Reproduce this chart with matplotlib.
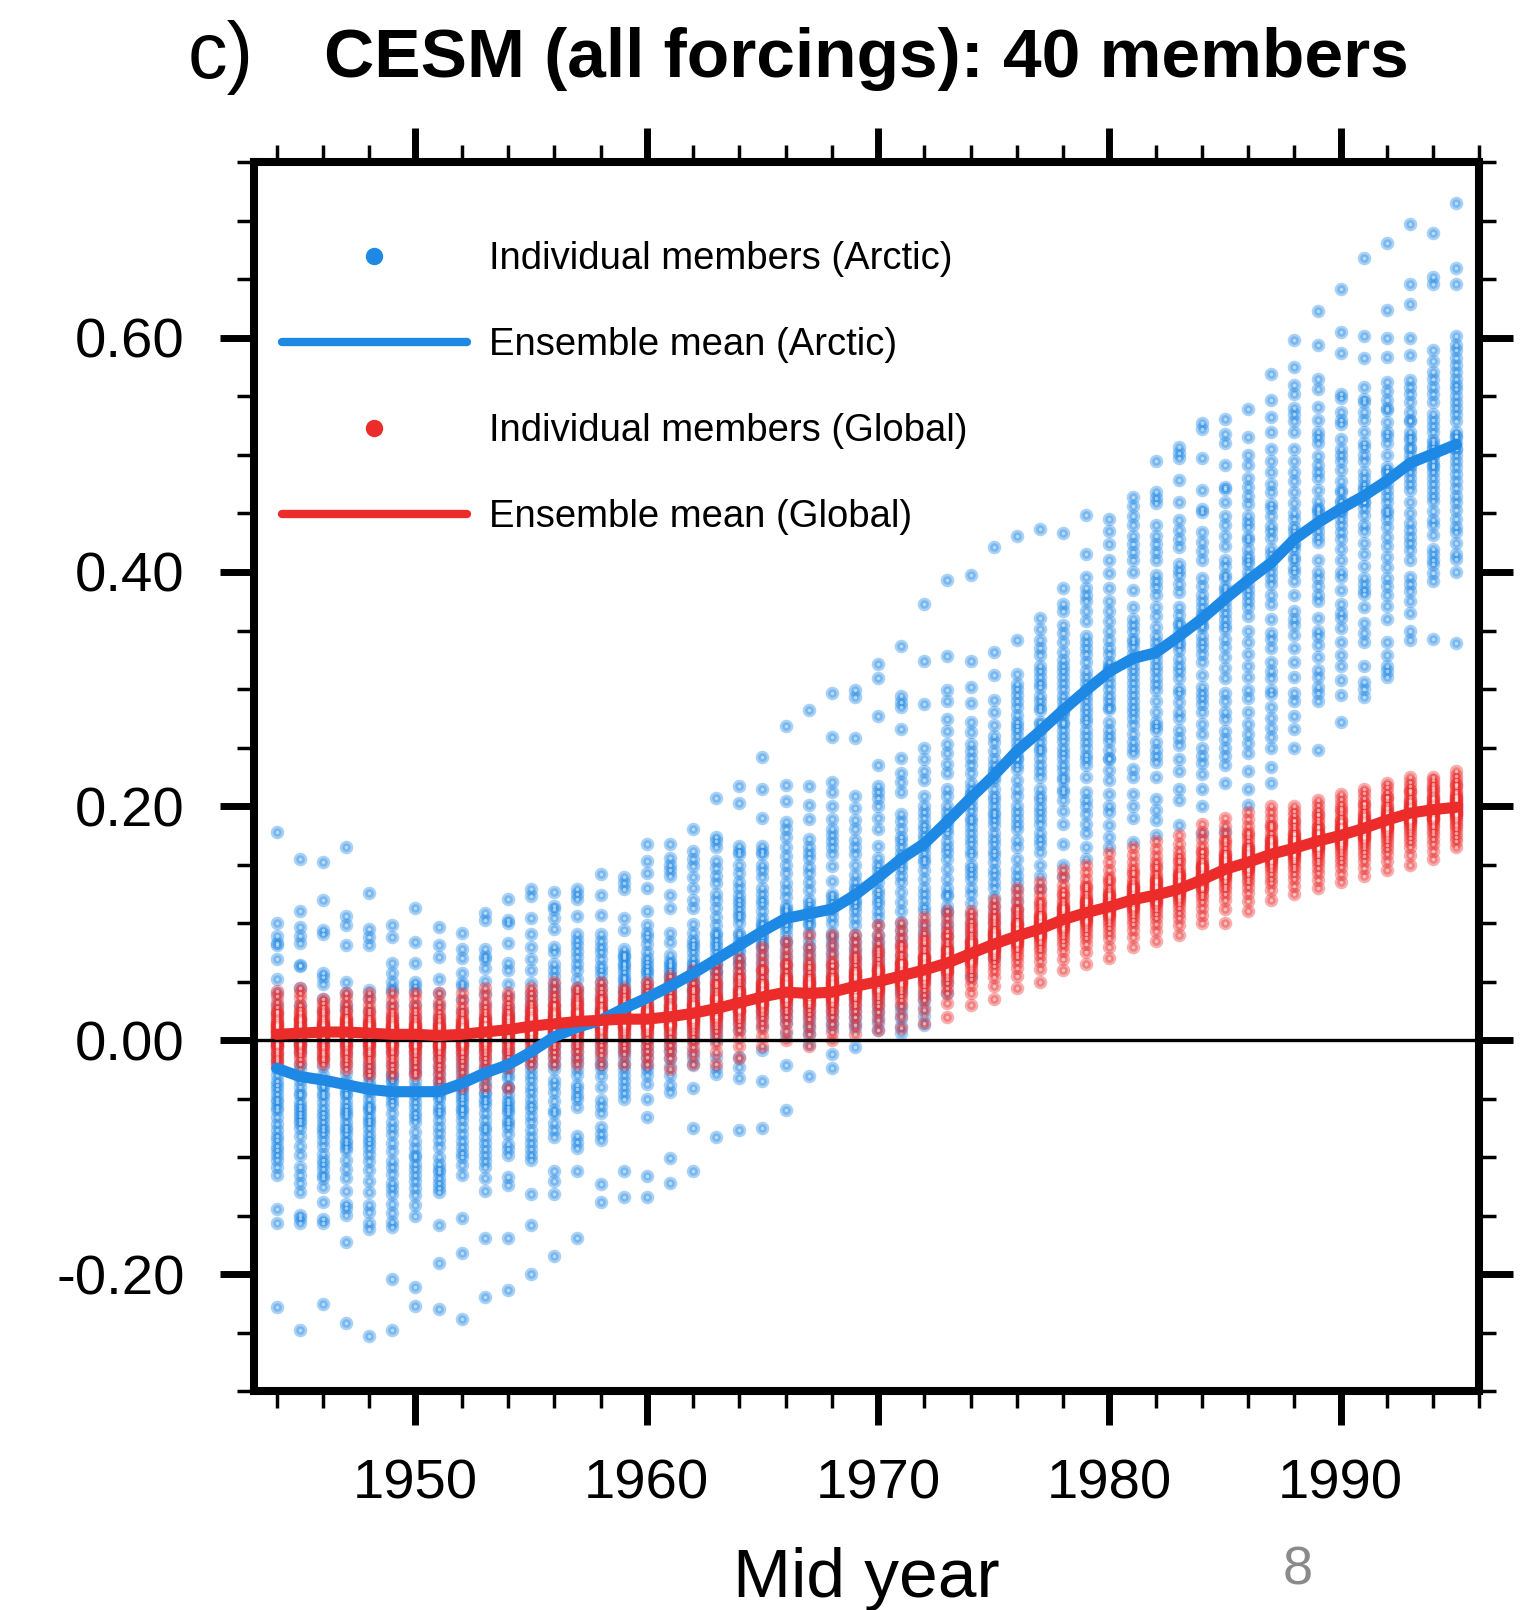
import numpy as np
import matplotlib
matplotlib.use('Agg')
import matplotlib.pyplot as plt
from matplotlib.lines import Line2D
from matplotlib.colors import to_rgba
from matplotlib.ticker import MultipleLocator, FormatStrFormatter

plt.rcParams['font.family'] = ['Liberation Sans', 'DejaVu Sans']
plt.rcParams['axes.unicode_minus'] = False

# mid years of the trend windows
years = list(range(1944, 1996))

# ensemble means, in thousandths of a degree
arctic_mean = [-24, -31, -34, -38, -42, -44, -44, -44, -37, -28,
               -21, -10, 3, 11, 17, 27, 36, 46, 57, 69,
               81, 93, 104, 108, 112, 124, 139, 155, 168, 187,
               207, 226, 247, 264, 282, 299, 315, 326, 331, 345,
               360, 377, 393, 408, 428, 442, 454, 465, 478, 493,
               501, 509]
global_mean = [5, 6, 7, 7, 6, 5, 5, 4, 5, 7,
               9, 12, 14, 16, 17, 18, 18, 20, 23, 27,
               32, 37, 41, 40, 41, 46, 50, 55, 60, 66,
               74, 82, 89, 95, 103, 109, 114, 120, 124, 129,
               137, 146, 152, 159, 164, 170, 175, 181, 188, 194,
               197, 199]

# individual members (Arctic), one list per mid year
arctic_members = [
    [178, 100, 89, 83, 81, 69, 52, 40, 30, 22, 15, 8, 2, -5, -12, -18, -25, -30, -38, -42,
     -46, -50, -53, -57, -60, -66, -72, -77, -82, -85, -90, -94, -98, -102, -108, -115, -144, -156, -35, -228],
    [155, 110, 97, 89, 83, 64, 63, 45, 30, 18, 8, -2, -10, -20, -25, -31, -40, -47, -53, -56,
     -59, -62, -65, -68, -71, -75, -82, -90, -98, -108, -115, -122, -130, -149, -152, -156, -5, -35, -45, -248],
    [152, 120, 94, 91, 57, 54, 48, 35, 25, 15, 5, -5, -15, -22, -30, -38, -45, -53, -58, -62,
     -66, -70, -74, -77, -80, -85, -90, -97, -102, -106, -110, -115, -118, -125, -138, -153, -156, -225, -40, -48],
    [165, 106, 98, 81, 50, 40, 30, 26, 15, 5, -5, -12, -20, -28, -35, -42, -47, -52, -56, -60,
     -65, -70, -74, -77, -80, -85, -91, -94, -102, -110, -118, -129, -140, -143, -149, -172, -242, -45, -62, -88],
    [126, 95, 88, 81, 43, 36, 25, 15, 5, -5, -12, -20, -25, -30, -38, -45, -50, -55, -60, -65,
     -68, -71, -75, -80, -84, -88, -92, -97, -103, -111, -120, -130, -141, -147, -156, -161, -253, -42, -35, -58],
    [98, 88, 66, 57, 50, 45, 42, 30, 20, 10, 0, -10, -20, -31, -34, -40, -48, -55, -62, -70,
     -75, -80, -88, -95, -103, -108, -114, -122, -126, -131, -140, -148, -155, -160, -204, -248, -35, -45, -52, -28],
    [113, 84, 66, 50, 46, 42, 30, 20, 10, 0, -10, -20, -28, -35, -40, -45, -53, -57, -62, -70,
     -78, -86, -92, -98, -100, -106, -110, -115, -120, -126, -132, -141, -150, -211, -227, -25, -48, -66, -5, -15],
    [97, 81, 71, 52, 40, 30, 20, 10, 0, -10, -15, -22, -28, -34, -40, -45, -50, -56, -62, -68,
     -74, -79, -85, -91, -100, -106, -110, -113, -118, -122, -126, -130, -158, -190, -230, -38, -48, -5, 15, -60],
    [92, 78, 70, 57, 49, 46, 35, 25, 15, 5, -5, -15, -25, -30, -38, -44, -50, -54, -58, -63,
     -68, -74, -80, -86, -91, -96, -100, -107, -115, -152, -182, -238, -20, -10, 0, -42, -60, -35, 12, -48],
    [109, 103, 78, 72, 69, 62, 51, 40, 30, 20, 10, 0, -8, -15, -22, -30, -38, -45, -50, -53,
     -56, -62, -68, -74, -77, -83, -88, -93, -98, -103, -108, -118, -129, -169, -219, -25, -35, 5, -45, 15],
    [121, 103, 100, 83, 66, 60, 48, 38, 28, 18, 10, 0, -8, -15, -19, -25, -32, -40, -46, -51,
     -54, -57, -62, -68, -71, -74, -80, -89, -93, -98, -117, -124, -169, -213, -30, -10, 5, 22, -40, -60],
    [129, 123, 104, 91, 80, 69, 60, 49, 40, 30, 20, 10, 0, -8, -16, -25, -34, -44, -50, -59,
     -65, -70, -77, -83, -88, -93, -98, -102, -131, -158, -200, -20, 5, 15, -30, -40, -12, 25, -55, 35],
    [127, 115, 112, 104, 95, 80, 75, 60, 48, 40, 30, 20, 12, 5, -5, -15, -25, -34, -44, -52,
     -62, -71, -77, -83, -112, -120, -131, -184, 0, 18, 25, -10, -20, 35, 8, -38, -60, 45, 55, 65],
    [129, 125, 121, 106, 91, 86, 81, 76, 71, 52, 40, 30, 20, 10, 0, -10, -19, -38, -42, -47,
     -57, -82, -87, -92, -112, -169, 5, 15, 25, -25, -30, 35, 45, 60, 65, -5, 8, 12, -15, -50],
    [142, 124, 107, 91, 80, 75, 69, 63, 56, 39, 33, 25, 15, 5, -5, -16, -24, -31, -51, -56,
     -74, -80, -85, -123, -138, 0, 10, 20, 28, 45, 50, -10, -20, -40, -62, 60, 85, 12, 18, 2],
    [139, 134, 129, 104, 94, 78, 74, 70, 66, 62, 58, 54, 50, 46, 42, 35, 25, 15, 5, -4,
     -10, -15, -20, -25, -30, -35, -40, -45, -50, -112, -134, 30, 20, 10, 0, 52, 64, 72, -8, 40],
    [168, 153, 143, 130, 110, 98, 92, 88, 82, 67, 63, 60, 55, 50, 45, 39, 30, 22, 12, 5,
     -5, -15, -21, -25, -30, -37, -50, -66, -116, -134, 35, 40, 25, 15, 0, 70, 75, 58, 20, -10],
    [168, 156, 150, 145, 140, 124, 113, 92, 84, 73, 68, 63, 58, 53, 48, 43, 37, 30, 20, 10,
     0, -9, -15, -22, -30, -38, -44, -101, -122, 45, 50, 55, 60, 65, 25, 35, 40, 15, 5, -5],
    [180, 162, 155, 149, 139, 130, 120, 113, 99, 92, 86, 82, 66, 60, 55, 49, 43, 37, 30, 20,
     10, 0, -9, -15, -21, -41, -75, -112, 62, 70, 75, 45, 50, 25, 35, 15, 5, 80, 65, 40],
    [207, 174, 170, 165, 153, 147, 140, 134, 113, 98, 92, 86, 82, 70, 64, 58, 50, 40, 30, 20,
     10, 0, -14, -24, -29, -83, 60, 65, 75, 80, 55, 45, 35, 25, 15, 105, 120, 125, 5, 90],
    [217, 203, 166, 162, 159, 143, 124, 120, 116, 108, 100, 92, 82, 75, 67, 60, 50, 40, 30, 20,
     9, -14, -23, -32, -77, 85, 90, 70, 55, 45, 35, 25, 15, 105, 112, 130, 135, 150, 65, 78],
    [242, 215, 190, 166, 162, 159, 139, 120, 116, 104, 98, 85, 75, 65, 55, 45, 35, 25, 12, -8,
     -35, -75, 90, 93, 96, 100, 80, 70, 60, 50, 40, 30, 20, 110, 125, 130, 145, 150, 88, 82],
    [268, 218, 204, 186, 180, 174, 157, 143, 134, 128, 122, 110, 98, 90, 82, 75, 65, 55, 45, 35,
     25, 15, 5, -21, -60, 100, 104, 108, 112, 115, 95, 85, 70, 60, 50, 40, 30, 20, 150, 165],
    [282, 217, 201, 189, 172, 156, 143, 135, 128, 116, 107, 98, 92, 85, 75, 65, 55, 45, 35, 25,
     15, 5, -3, -31, 100, 104, 110, 112, 120, 80, 70, 60, 50, 40, 30, 20, 10, 148, 160, 165],
    [297, 259, 221, 212, 189, 180, 170, 159, 149, 136, 122, 100, 92, 88, 80, 70, 60, 50, 40, 30,
     20, 10, -12, -24, 105, 110, 115, 118, 125, 85, 75, 65, 55, 45, 35, 25, 15, 200, 165, 175],
    [299, 293, 258, 209, 198, 188, 180, 171, 159, 141, 128, 110, 104, 98, 85, 75, 65, 55, 45, 35,
     25, 15, -6, 120, 125, 130, 118, 135, 90, 80, 70, 60, 50, 40, 30, 20, 10, 150, 165, 115],
    [321, 309, 277, 235, 217, 212, 207, 180, 166, 156, 128, 120, 116, 110, 98, 90, 80, 70, 60, 50,
     40, 30, 20, 9, 135, 140, 145, 150, 125, 85, 75, 65, 55, 45, 35, 25, 15, 190, 200, 105],
    [337, 294, 289, 285, 266, 241, 228, 221, 212, 193, 187, 174, 165, 156, 146, 127, 118, 110, 101, 95,
     82, 73, 60, 50, 40, 30, 19, 6, 155, 160, 150, 140, 135, 170, 180, 88, 66, 45, 25, 12],
    [373, 324, 287, 250, 240, 230, 222, 209, 200, 190, 184, 165, 152, 145, 138, 130, 120, 114, 101, 95,
     80, 65, 50, 35, 21, 13, 168, 172, 160, 175, 155, 180, 125, 110, 90, 70, 55, 40, 28, 195],
    [393, 328, 299, 290, 274, 264, 253, 236, 228, 215, 209, 187, 177, 170, 161, 146, 138, 130, 123, 115,
     108, 95, 80, 65, 50, 40, 185, 190, 195, 180, 200, 165, 155, 125, 110, 100, 88, 72, 58, 245],
    [397, 324, 302, 288, 272, 263, 253, 247, 241, 228, 210, 205, 196, 187, 177, 168, 158, 146, 138, 130,
     117, 100, 85, 70, 55, 200, 210, 215, 220, 190, 182, 172, 162, 150, 142, 125, 108, 92, 78, 235],
    [421, 332, 312, 291, 280, 269, 247, 230, 222, 209, 200, 192, 184, 177, 168, 158, 152, 141, 130, 115,
     100, 85, 70, 225, 230, 235, 240, 215, 205, 195, 188, 172, 162, 145, 135, 122, 108, 92, 260, 255],
    [431, 342, 313, 304, 295, 285, 272, 260, 241, 232, 222, 209, 190, 171, 165, 146, 135, 120, 105, 90,
     250, 255, 245, 265, 240, 215, 200, 180, 155, 140, 128, 112, 98, 268, 278, 290, 300, 235, 195, 185],
    [437, 361, 351, 342, 335, 329, 310, 302, 294, 282, 272, 247, 241, 225, 209, 199, 190, 177, 168, 161,
     265, 270, 260, 255, 285, 290, 250, 235, 215, 205, 185, 172, 150, 140, 130, 320, 315, 305, 230, 195],
    [433, 386, 373, 367, 348, 340, 332, 320, 310, 300, 294, 285, 272, 256, 241, 231, 222, 212, 196, 168,
     280, 282, 278, 290, 265, 260, 250, 245, 235, 205, 185, 150, 140, 355, 325, 315, 305, 270, 225, 215],
    [449, 415, 396, 386, 367, 358, 345, 335, 323, 294, 272, 265, 260, 244, 212, 193, 177, 300, 305, 298,
     310, 315, 290, 285, 280, 255, 250, 235, 225, 200, 185, 165, 155, 375, 380, 340, 330, 275, 240, 205],
    [445, 435, 424, 399, 386, 367, 358, 350, 342, 323, 316, 294, 283, 272, 256, 248, 241, 231, 222, 184,
     174, 315, 318, 320, 310, 305, 300, 330, 335, 290, 265, 260, 210, 200, 195, 165, 410, 375, 285, 240],
    [464, 456, 448, 431, 424, 417, 400, 370, 360, 350, 343, 336, 325, 315, 305, 295, 285, 275, 269, 255,
     245, 232, 225, 190, 169, 330, 320, 310, 300, 290, 280, 340, 355, 385, 410, 440, 250, 262, 210, 200],
    [495, 468, 463, 459, 431, 424, 417, 397, 392, 387, 370, 362, 353, 340, 309, 304, 299, 272, 268, 265,
     248, 243, 238, 206, 197, 188, 330, 335, 325, 320, 315, 345, 380, 410, 440, 290, 280, 255, 225, 175],
    [507, 502, 497, 479, 444, 436, 428, 421, 407, 402, 397, 383, 370, 363, 356, 340, 333, 326, 309, 297,
     289, 280, 265, 258, 252, 240, 205, 184, 345, 350, 355, 338, 320, 315, 300, 275, 230, 215, 460, 390],
    [527, 522, 497, 454, 451, 434, 426, 418, 410, 388, 370, 362, 353, 345, 336, 323, 312, 302, 297, 292,
     287, 262, 243, 237, 227, 176, 360, 365, 375, 380, 355, 340, 330, 395, 470, 280, 270, 250, 215, 200],
    [531, 518, 491, 473, 471, 448, 440, 431, 422, 410, 397, 387, 351, 343, 336, 327, 318, 309, 297, 274,
     264, 257, 250, 243, 179, 375, 380, 385, 370, 365, 360, 395, 405, 460, 290, 280, 235, 220, 510, 355],
    [539, 515, 491, 473, 465, 458, 448, 443, 438, 427, 420, 414, 407, 375, 362, 330, 320, 299, 292, 262,
     254, 245, 201, 395, 390, 400, 385, 380, 370, 350, 340, 310, 280, 270, 230, 215, 480, 500, 430, 410],
    [569, 547, 532, 505, 495, 485, 468, 458, 448, 439, 429, 395, 373, 348, 343, 323, 309, 299, 296, 275,
     267, 259, 233, 410, 405, 400, 415, 420, 390, 380, 360, 335, 315, 285, 250, 220, 475, 455, 435, 520],
    [598, 575, 552, 540, 529, 520, 505, 495, 478, 468, 459, 438, 423, 413, 403, 392, 367, 346, 335, 323,
     297, 277, 266, 430, 425, 435, 420, 445, 410, 400, 380, 360, 310, 290, 250, 560, 535, 485, 450, 355],
    [623, 594, 556, 541, 530, 520, 510, 499, 491, 480, 470, 461, 453, 440, 426, 400, 388, 375, 361, 350,
     338, 327, 316, 302, 297, 248, 445, 435, 450, 430, 455, 410, 395, 380, 345, 310, 290, 515, 485, 565],
    [642, 605, 587, 552, 549, 537, 526, 514, 505, 495, 487, 478, 468, 461, 453, 434, 428, 396, 385, 373,
     361, 352, 329, 308, 295, 272, 455, 450, 460, 445, 440, 420, 410, 400, 365, 340, 320, 530, 500, 470],
    [668, 602, 583, 558, 548, 537, 520, 507, 495, 480, 472, 465, 449, 425, 405, 395, 381, 356, 348, 306,
     293, 470, 460, 455, 475, 485, 440, 435, 415, 390, 370, 340, 320, 545, 530, 510, 500, 385, 300, 460],
    [681, 624, 600, 584, 562, 547, 538, 528, 516, 486, 453, 445, 438, 430, 422, 413, 404, 388, 371, 329,
     320, 310, 480, 475, 485, 490, 470, 465, 460, 500, 510, 395, 380, 360, 340, 555, 540, 520, 450, 315],
    [697, 646, 629, 585, 564, 558, 552, 537, 529, 520, 513, 507, 491, 480, 442, 436, 430, 419, 396, 384,
     375, 350, 342, 495, 490, 500, 485, 475, 470, 460, 450, 410, 365, 545, 530, 515, 505, 600, 425, 390],
    [690, 652, 646, 590, 571, 565, 558, 552, 535, 520, 513, 507, 491, 461, 452, 444, 432, 407, 399, 392,
     343, 500, 505, 495, 510, 485, 480, 470, 475, 440, 420, 410, 580, 545, 530, 525, 490, 415, 500, 465],
    [715, 660, 646, 602, 594, 583, 577, 571, 560, 556, 545, 529, 516, 495, 484, 478, 472, 465, 453, 438,
     434, 411, 400, 339, 510, 505, 515, 500, 520, 490, 460, 445, 425, 415, 540, 550, 565, 590, 505, 535],
]

# individual members (Global), one list per mid year
global_members = [
    [42, 38, 33, 28, 25, 22, 20, 18, 16, 14, 12, 10, 9, 8, 7, 6, 5, 4, 3, 2, 1, 0, -1, -2, -3, -4, -5, -6, -8, -10, -12, -14, -16, -18, -20, -22, 11, 13, 15, 24],
    [45, 40, 36, 30, 27, 24, 21, 19, 17, 15, 13, 12, 11, 10, 9, 8, 7, 6, 5, 4, 3, 2, 1, 0, -2, -4, -6, -8, -10, -13, -16, -20, 14, 16, 18, 23, 9, 5, 1, -3],
    [35, 32, 28, 26, 24, 22, 20, 18, 16, 15, 14, 13, 12, 11, 10, 9, 8, 7, 6, 5, 4, 3, 2, 1, 0, -1, -3, -5, -7, -9, -11, -13, -15, -17, -20, 8, 6, 4, 10, 12],
    [40, 36, 31, 27, 24, 21, 19, 17, 15, 14, 13, 12, 11, 10, 9, 8, 7, 6, 5, 4, 3, 2, 1, 0, -1, -3, -5, -7, -9, -11, -14, -17, -20, -25, 16, 18, 9, 5, 2, -2],
    [40, 35, 30, 26, 23, 20, 18, 16, 14, 12, 11, 10, 9, 8, 7, 6, 5, 4, 3, 2, 1, 0, -1, -2, -4, -6, -8, -10, -12, -15, -18, -22, -26, -30, 13, 15, 7, 3, 0, -3],
    [40, 34, 29, 25, 22, 20, 18, 16, 14, 13, 12, 11, 10, 9, 8, 7, 6, 5, 4, 3, 2, 1, 0, -1, -2, -3, -5, -7, -9, -11, -14, -17, -21, -25, -30, 10, 6, 2, -4, 15],
    [40, 36, 30, 26, 23, 20, 17, 15, 13, 12, 11, 10, 9, 8, 7, 6, 5, 4, 3, 2, 1, 0, -1, -2, -3, -4, -6, -8, -10, -13, -16, -19, -23, -27, -30, 9, 5, 1, -5, 14],
    [40, 33, 28, 24, 21, 18, 16, 14, 12, 11, 10, 9, 8, 7, 6, 5, 4, 3, 2, 1, 0, -1, -2, -3, -4, -5, -7, -9, -11, -14, -17, -21, -25, -30, -35, 8, 4, 0, -6, 13],
    [40, 34, 29, 25, 22, 19, 17, 15, 13, 12, 11, 10, 9, 8, 7, 6, 5, 4, 3, 2, 1, 0, -1, -2, -3, -5, -7, -9, -11, -14, -18, -22, -27, -33, -40, 10, 6, 2, -4, 16],
    [45, 39, 33, 28, 25, 22, 19, 17, 15, 14, 13, 12, 11, 10, 9, 8, 7, 6, 5, 4, 3, 2, 1, 0, -1, -3, -5, -7, -9, -12, -15, -19, -24, -31, -40, 12, 8, 4, -2, 18],
    [40, 36, 32, 28, 25, 23, 21, 19, 17, 16, 15, 14, 13, 12, 11, 10, 9, 8, 7, 6, 5, 4, 3, 2, 1, 0, -2, -4, -6, -8, -11, -14, -18, -24, -41, 13, 9, 5, 1, 20],
    [45, 40, 36, 32, 29, 26, 24, 22, 20, 19, 18, 17, 16, 15, 14, 13, 12, 11, 10, 9, 8, 7, 6, 5, 4, 3, 2, 0, -2, -5, -8, -11, -15, -20, 15, 12, 9, 6, 21, 27],
    [50, 44, 39, 35, 31, 28, 26, 24, 22, 21, 20, 19, 18, 17, 16, 15, 14, 13, 12, 11, 10, 9, 8, 7, 6, 5, 4, 2, 0, -3, -6, -10, -14, -20, 17, 14, 11, 8, 23, 30],
    [45, 42, 38, 35, 32, 30, 28, 26, 24, 23, 22, 21, 20, 19, 18, 17, 16, 15, 14, 13, 12, 11, 10, 9, 8, 7, 5, 3, 1, -2, -5, -9, -14, -20, 20, 17, 14, 11, 25, 33],
    [50, 45, 41, 37, 34, 31, 29, 27, 25, 24, 23, 22, 21, 20, 19, 18, 17, 16, 15, 14, 13, 12, 11, 10, 9, 8, 6, 4, 2, -1, -4, -8, -13, -20, 21, 18, 15, 12, 26, 35],
    [45, 42, 39, 36, 33, 31, 29, 27, 26, 25, 24, 23, 22, 21, 20, 19, 18, 17, 16, 15, 14, 13, 12, 11, 10, 9, 7, 5, 3, 0, -3, -7, -12, -20, 22, 19, 16, 13, 28, 34],
    [50, 46, 42, 38, 35, 32, 30, 28, 26, 25, 24, 23, 22, 21, 20, 19, 18, 17, 16, 15, 14, 13, 12, 11, 10, 9, 7, 5, 2, -1, -5, -9, -14, -20, 21, 18, 15, 12, 27, 36],
    [55, 50, 45, 41, 37, 34, 32, 30, 28, 27, 26, 25, 24, 23, 22, 21, 20, 19, 18, 17, 16, 15, 14, 13, 12, 10, 8, 6, 3, 0, -4, -9, -15, -25, 23, 20, 17, 13, 29, 38],
    [60, 54, 49, 45, 41, 38, 35, 33, 31, 30, 29, 28, 27, 26, 25, 24, 23, 22, 21, 20, 19, 18, 17, 16, 15, 13, 11, 9, 6, 3, -1, -6, -12, -20, 26, 23, 20, 16, 32, 43],
    [65, 59, 54, 50, 46, 43, 40, 38, 36, 35, 34, 33, 32, 31, 30, 29, 28, 27, 26, 25, 24, 23, 22, 21, 20, 18, 16, 14, 11, 8, 4, -2, -10, -20, 30, 27, 24, 20, 37, 48],
    [70, 64, 59, 55, 51, 48, 45, 43, 41, 40, 39, 38, 37, 36, 35, 34, 33, 32, 31, 30, 29, 28, 27, 26, 25, 23, 21, 19, 16, 13, 9, 3, -5, -15, 35, 32, 29, 25, 42, 53],
    [80, 73, 67, 62, 58, 54, 51, 49, 47, 46, 45, 44, 43, 42, 41, 40, 39, 38, 37, 36, 35, 34, 33, 32, 31, 29, 27, 25, 22, 19, 15, 10, 4, -5, 40, 37, 34, 30, 48, 60],
    [85, 78, 72, 67, 63, 59, 56, 54, 52, 51, 50, 49, 48, 47, 46, 45, 44, 43, 42, 41, 40, 39, 38, 37, 36, 34, 32, 30, 27, 24, 20, 15, 8, 0, 44, 41, 38, 34, 53, 64],
    [90, 80, 73, 67, 62, 58, 55, 53, 51, 50, 49, 48, 47, 46, 45, 44, 43, 42, 41, 40, 39, 38, 37, 36, 35, 33, 31, 29, 26, 22, 18, 12, 5, -5, 43, 40, 37, 33, 52, 63],
    [90, 81, 74, 68, 63, 59, 56, 54, 52, 51, 50, 49, 48, 47, 46, 45, 44, 43, 42, 41, 40, 39, 38, 37, 36, 34, 32, 30, 27, 24, 20, 14, 7, 0, 44, 41, 38, 34, 53, 64],
    [90, 84, 78, 73, 68, 64, 61, 59, 57, 56, 55, 54, 53, 52, 51, 50, 49, 48, 47, 46, 45, 44, 43, 42, 41, 39, 37, 35, 32, 29, 25, 20, 13, 5, 49, 46, 43, 39, 58, 70],
    [98, 90, 83, 78, 73, 69, 66, 63, 61, 60, 59, 58, 57, 56, 55, 54, 53, 52, 51, 50, 49, 48, 47, 46, 45, 43, 41, 39, 36, 33, 29, 24, 17, 9, 53, 50, 47, 43, 62, 75],
    [100, 93, 87, 82, 78, 74, 71, 68, 66, 65, 64, 63, 62, 61, 60, 59, 58, 57, 56, 55, 54, 53, 52, 51, 50, 48, 46, 44, 41, 38, 34, 29, 21, 10, 58, 55, 52, 48, 67, 80],
    [105, 98, 92, 87, 83, 79, 76, 73, 71, 70, 69, 68, 67, 66, 65, 64, 63, 62, 61, 60, 59, 58, 57, 56, 55, 53, 51, 49, 46, 43, 39, 34, 26, 15, 63, 60, 57, 53, 72, 85],
    [110, 104, 98, 93, 89, 85, 82, 79, 77, 76, 75, 74, 73, 72, 71, 70, 69, 68, 67, 66, 65, 64, 63, 62, 61, 59, 57, 55, 52, 49, 45, 40, 32, 20, 69, 66, 63, 59, 78, 90],
    [110, 106, 102, 98, 94, 91, 88, 86, 84, 83, 82, 81, 80, 79, 78, 77, 76, 75, 74, 73, 72, 71, 70, 69, 68, 66, 64, 62, 59, 56, 52, 47, 40, 30, 77, 74, 71, 67, 85, 96],
    [120, 115, 110, 106, 102, 99, 96, 94, 92, 91, 90, 89, 88, 87, 86, 85, 84, 83, 82, 81, 80, 79, 78, 77, 76, 74, 72, 70, 67, 63, 59, 54, 46, 35, 85, 82, 79, 75, 93, 104],
    [130, 124, 118, 113, 109, 106, 103, 101, 99, 98, 97, 96, 95, 94, 93, 92, 91, 90, 89, 88, 87, 86, 85, 84, 83, 81, 79, 77, 74, 71, 67, 62, 55, 45, 92, 89, 86, 82, 100, 111],
    [135, 129, 124, 119, 115, 112, 109, 107, 105, 104, 103, 102, 101, 100, 99, 98, 97, 96, 95, 94, 93, 92, 91, 90, 89, 87, 85, 83, 80, 77, 73, 68, 61, 50, 98, 95, 92, 88, 106, 117],
    [145, 139, 133, 128, 124, 120, 117, 115, 113, 112, 111, 110, 109, 108, 107, 106, 105, 104, 103, 102, 101, 100, 99, 98, 97, 95, 93, 91, 88, 85, 81, 76, 69, 60, 106, 103, 100, 96, 114, 125],
    [150, 144, 138, 133, 129, 126, 123, 121, 119, 118, 117, 116, 115, 114, 113, 112, 111, 110, 109, 108, 107, 106, 105, 104, 103, 101, 99, 97, 94, 91, 87, 82, 75, 65, 112, 109, 106, 102, 120, 131],
    [160, 152, 145, 139, 135, 131, 128, 126, 124, 123, 122, 121, 120, 119, 118, 117, 116, 115, 114, 113, 112, 111, 110, 109, 108, 106, 104, 102, 99, 96, 92, 87, 80, 70, 117, 114, 111, 107, 125, 137],
    [165, 158, 152, 147, 142, 138, 135, 133, 131, 130, 129, 128, 127, 126, 125, 124, 123, 122, 121, 120, 119, 118, 117, 116, 115, 113, 111, 109, 106, 103, 99, 94, 88, 80, 123, 120, 117, 113, 132, 144],
    [170, 163, 157, 152, 147, 143, 140, 138, 136, 135, 134, 133, 132, 131, 130, 129, 128, 127, 126, 125, 124, 123, 122, 121, 120, 118, 116, 114, 111, 108, 104, 99, 93, 85, 127, 124, 121, 117, 137, 149],
    [175, 168, 162, 157, 152, 148, 145, 143, 141, 140, 139, 138, 137, 136, 135, 134, 133, 132, 131, 130, 129, 128, 127, 126, 125, 123, 121, 119, 116, 113, 109, 104, 98, 90, 132, 129, 126, 122, 142, 154],
    [185, 178, 172, 166, 161, 157, 154, 152, 150, 149, 148, 147, 146, 145, 144, 143, 142, 141, 140, 139, 138, 137, 136, 135, 134, 132, 130, 128, 125, 122, 118, 113, 107, 100, 140, 137, 134, 130, 150, 162],
    [190, 183, 177, 172, 168, 164, 161, 159, 157, 156, 155, 154, 153, 152, 151, 150, 149, 148, 147, 146, 145, 144, 143, 142, 141, 139, 137, 135, 132, 129, 125, 120, 112, 100, 149, 146, 143, 139, 158, 170],
    [195, 189, 183, 178, 174, 170, 167, 165, 163, 162, 161, 160, 159, 158, 157, 156, 155, 154, 153, 152, 151, 150, 149, 148, 147, 145, 143, 141, 138, 135, 131, 126, 119, 110, 155, 152, 149, 145, 164, 176],
    [200, 195, 190, 185, 181, 177, 174, 172, 170, 169, 168, 167, 166, 165, 164, 163, 162, 161, 160, 159, 158, 157, 156, 155, 154, 152, 150, 148, 145, 142, 138, 134, 128, 120, 162, 159, 156, 152, 171, 183],
    [200, 196, 192, 188, 184, 181, 178, 176, 174, 173, 172, 171, 170, 169, 168, 167, 166, 165, 164, 163, 162, 161, 160, 159, 158, 156, 154, 152, 149, 146, 142, 138, 132, 125, 167, 164, 161, 157, 176, 187],
    [205, 201, 197, 193, 189, 186, 183, 181, 179, 178, 177, 176, 175, 174, 173, 172, 171, 170, 169, 168, 167, 166, 165, 164, 163, 161, 159, 157, 154, 151, 147, 143, 137, 130, 173, 170, 167, 163, 182, 192],
    [210, 206, 202, 198, 194, 191, 188, 186, 184, 183, 182, 181, 180, 179, 178, 177, 176, 175, 174, 173, 172, 171, 170, 169, 168, 166, 164, 162, 159, 156, 152, 148, 142, 135, 178, 175, 172, 168, 187, 197],
    [215, 211, 207, 203, 199, 196, 193, 191, 189, 188, 187, 186, 185, 184, 183, 182, 181, 180, 179, 178, 177, 176, 175, 174, 173, 171, 169, 167, 164, 161, 157, 153, 147, 140, 184, 181, 178, 174, 192, 202],
    [220, 216, 212, 208, 205, 202, 199, 197, 195, 194, 193, 192, 191, 190, 189, 188, 187, 186, 185, 184, 183, 182, 181, 180, 179, 177, 175, 173, 170, 167, 163, 159, 153, 145, 191, 188, 185, 181, 198, 208],
    [225, 221, 217, 214, 211, 208, 205, 203, 201, 200, 199, 198, 197, 196, 195, 194, 193, 192, 191, 190, 189, 188, 187, 186, 185, 183, 181, 179, 176, 173, 169, 165, 158, 150, 197, 194, 191, 187, 204, 213],
    [225, 222, 219, 216, 213, 210, 208, 206, 204, 203, 202, 201, 200, 199, 198, 197, 196, 195, 194, 193, 192, 191, 190, 189, 188, 186, 184, 182, 179, 176, 172, 168, 162, 155, 200, 197, 194, 190, 207, 215],
    [230, 226, 222, 219, 216, 213, 211, 209, 207, 206, 205, 204, 203, 202, 201, 200, 199, 198, 197, 196, 195, 194, 193, 192, 191, 189, 187, 185, 183, 180, 177, 174, 170, 165, 202, 199, 196, 192, 209, 218],
]

legend_labels = ['Individual members (Arctic)', 'Ensemble mean (Arctic)',
                 'Individual members (Global)', 'Ensemble mean (Global)']

BLUE = '#1e88e5'
RED = '#ec2b2b'


def plot_members(ax, members, color, z):
    x = np.concatenate([[yr] * len(v) for yr, v in zip(years, members)])
    y = np.concatenate([np.array(v) for v in members]) / 1000.0
    # soft halo, darker ring, pale centre
    ax.scatter(x, y, s=95, color=to_rgba(color, 0.38), linewidths=0, zorder=z)
    ax.scatter(x, y, s=38, color=to_rgba(color, 0.35), linewidths=0, zorder=z)
    ax.scatter(x, y, s=6, color=(1, 1, 1, 0.5), linewidths=0, zorder=z)


fig = plt.figure(figsize=(15.33, 16.10), dpi=100)
ax = fig.add_axes([0.1654, 0.1358, 0.7997, 0.7634])

plot_members(ax, arctic_members, BLUE, 2)
plot_members(ax, global_members, RED, 2.5)
ax.axhline(0, color='k', lw=2.4, zorder=3)
ax.plot(years, np.array(arctic_mean) / 1000.0, color=BLUE, lw=8,
        solid_capstyle='round', solid_joinstyle='round', zorder=4)
ax.plot(years, np.array(global_mean) / 1000.0, color=RED, lw=8,
        solid_capstyle='round', solid_joinstyle='round', zorder=5)

ax.set_xlim(1943, 1996)
ax.set_ylim(-0.30, 0.75)
ax.xaxis.set_major_locator(MultipleLocator(10))
ax.xaxis.set_minor_locator(MultipleLocator(2))
ax.yaxis.set_major_locator(MultipleLocator(0.2))
ax.yaxis.set_minor_locator(MultipleLocator(0.05))
ax.yaxis.set_major_formatter(FormatStrFormatter('%.2f'))

ax.tick_params(which='both', direction='out', top=True, right=True)
ax.tick_params(which='major', length=24.5, width=5, labelsize=40.5)
ax.tick_params(which='minor', length=12.2, width=2.5)
ax.tick_params(axis='x', which='major', pad=24)
ax.tick_params(axis='y', which='major', pad=25)
for sp in ax.spines.values():
    sp.set_linewidth(5.8)

handles = [
    Line2D([], [], ls='none', marker='o', ms=11.5, color=BLUE),
    Line2D([], [], color=BLUE, lw=6, solid_capstyle='round'),
    Line2D([], [], ls='none', marker='o', ms=11.5, color=RED),
    Line2D([], [], color=RED, lw=6, solid_capstyle='round'),
]
ax.legend(handles, legend_labels, loc='upper left', bbox_to_anchor=(0.023, 0.936),
          frameon=False, fontsize=27.5, handlelength=4.84, handletextpad=0.58,
          labelspacing=1.31, borderpad=0, borderaxespad=0)

fig.text(188 / 1533, 1 - 78 / 1610, 'c)', ha='left', va='baseline', fontsize=57)
fig.text(866.6 / 1533, 1 - 77 / 1610, 'CESM (all forcings): 40 members',
         ha='center', va='baseline', fontsize=50, fontweight='bold')
fig.text(866.6 / 1533, 1 - 1597 / 1610, 'Mid year', ha='center', va='baseline', fontsize=50)
fig.text(1298 / 1533, 1 - 1584 / 1610, '8', ha='center', va='baseline', fontsize=39,
         color='#8a8a8a')

fig.savefig('out.png', dpi=100)
